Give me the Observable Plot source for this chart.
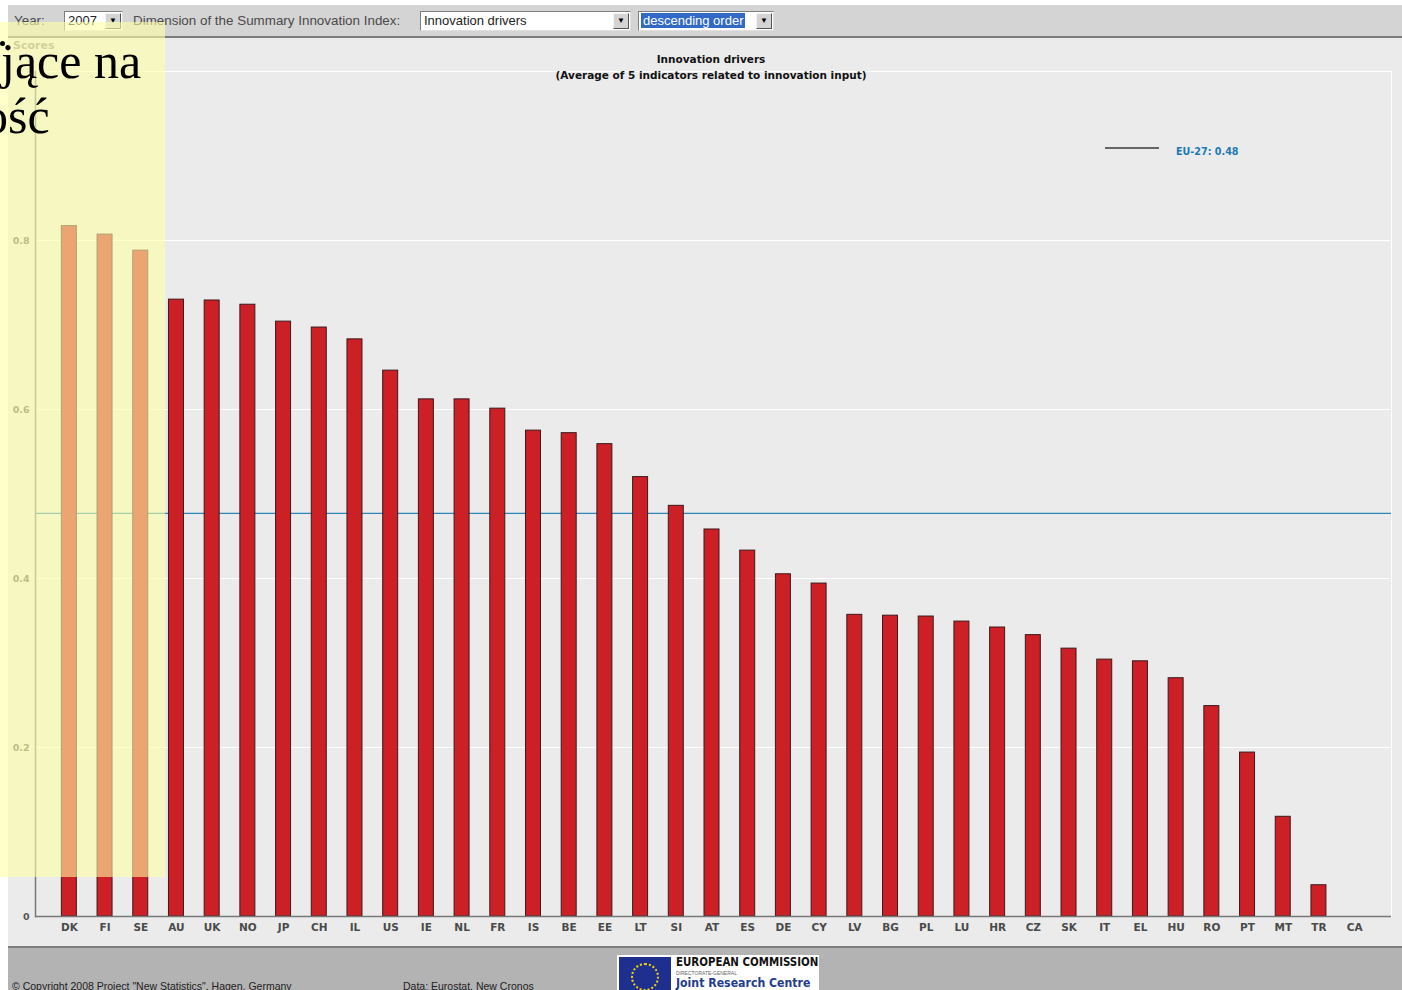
<!DOCTYPE html>
<html>
<head>
<meta charset="utf-8">
<script src="https://cdn.jsdelivr.net/npm/d3@7"></script>
<script src="https://cdn.jsdelivr.net/npm/@observablehq/plot@0.6"></script>
<style>
  html, body { margin: 0; padding: 0; background: #ffffff; }
  body { width: 1402px; height: 990px; position: relative; overflow: hidden; font-family: "Liberation Sans", Arial, sans-serif; }
  .abs { position: absolute; }
  #topbar { left: 8px; top: 5px; width: 1394px; height: 31px; background: #d4d4d4; border-bottom: 2px solid #7c7c7c; }
  .lbl { font-size: 13.4px; color: #4a4a4a; top: 13px; white-space: nowrap; }
  .sel { top: 11px; height: 18px; background: #fff; border: 1px solid #7f7f7f; border-right-color: #e0e0e0; border-bottom-color: #e0e0e0; font-size: 13px; color: #222; }
  .sel .txt { position: absolute; left: 3px; top: 1px; white-space: nowrap; }
  .sel .btn { position: absolute; right: 1px; top: 1px; width: 14px; height: 14px; background: #d4d4d4; border: 1px solid #f4f4f4; border-right-color: #555; border-bottom-color: #555; font-size: 8px; text-align: center; line-height: 14px; color: #000; }
  #chartbg { left: 8px; top: 38px; width: 1394px; height: 908px; background: #ebebeb; }
  #footer { left: 8px; top: 946px; width: 1394px; height: 44px; background: #b3b3b3; border-top: 2px solid #7c7c7c; }
  #plot { left: 0; top: 37px; }
  .title { width: 1402px; left: 10px; text-align: center; font-family: "DejaVu Sans", sans-serif; font-weight: bold; font-size: 10.5px; color: #111; }
  #overlay { left: 0; top: 22px; width: 165px; height: 855px; background: rgba(255,255,165,0.6); overflow: hidden; }
  .big { position: absolute; font-family: "Liberation Serif", "DejaVu Serif", serif; font-size: 50px; color: #000; white-space: nowrap; line-height: 1; }
  .cond { font-family: "DejaVu Sans Condensed", "Liberation Sans Narrow", "Liberation Sans", sans-serif; font-stretch: condensed; }
</style>
</head>
<body>
<script>
// ---- data ----
const codes = ["DK","FI","SE","AU","UK","NO","JP","CH","IL","US","IE","NL","FR","IS","BE","EE","LT","SI","AT","ES","DE","CY","LV","BG","PL","LU","HR","CZ","SK","IT","EL","HU","RO","PT","MT","TR","CA"];
const scores = [0.817,0.807,0.788,0.730,0.729,0.724,0.704,0.697,0.683,0.646,0.612,0.612,0.601,0.575,0.572,0.559,0.520,0.486,0.458,0.433,0.405,0.394,0.357,0.356,0.355,0.349,0.342,0.333,0.317,0.304,0.302,0.282,0.249,0.194,0.118,0.037,null];
const euValue = 0.477;
const yTicks = [0, 0.2, 0.4, 0.6, 0.8];
const gridValues = [0.2, 0.4, 0.6, 0.8, 1.0];
const titleText = "Innovation drivers";
const subtitleText = "(Average of 5 indicators related to innovation input)";
const legendText = "EU-27: 0.48";
</script>

<div id="topbar" class="abs"></div>
<div class="abs lbl" style="left:14px;">Year:</div>
<div class="abs sel" style="left:64px;width:57px;"><span class="txt">2007</span><span class="btn">&#9660;</span></div>
<div class="abs lbl" style="left:133px;">Dimension of the Summary Innovation Index:</div>
<div class="abs sel" style="left:420px;width:209px;"><span class="txt">Innovation drivers</span><span class="btn">&#9660;</span></div>
<div class="abs sel" style="left:638px;width:134px;"><span class="txt" style="background:#316ac5;color:#fff;padding:0 2px;left:2px;">descending order</span><span class="btn">&#9660;</span></div>

<div id="chartbg" class="abs"></div>
<div id="plot" class="abs"></div>

<div class="abs title" id="t1" style="top:53px;"></div>
<div class="abs title" id="t2" style="top:69px;"></div>

<div class="abs" style="left:1105px;top:147px;width:54px;height:0;border-top:2px solid #666;"></div>
<div class="abs" id="leg" style="left:1176px;top:146px;font-family:'DejaVu Sans',sans-serif;font-weight:bold;font-size:9.6px;color:#1a7ab5;"></div>

<div class="abs" style="left:13px;top:39px;font-family:'DejaVu Sans',sans-serif;font-weight:bold;font-size:11px;color:#8a8a8a;">Scores</div>

<div id="footer" class="abs"></div>
<div class="abs" style="left:12px;top:980px;font-size:10.5px;color:#222;white-space:nowrap;">&copy; Copyright 2008 Project "New Statistics", Hagen, Germany</div>
<div class="abs" style="left:403px;top:980px;font-size:10.5px;color:#222;white-space:nowrap;">Data: Eurostat, New Cronos</div>
<div class="abs" style="left:617px;top:955px;width:202px;height:40px;background:#fff;">
  <div class="abs" style="left:2px;top:2px;width:52px;height:38px;background:#1f2f8f;"></div>
  <div class="abs" style="left:14px;top:8px;width:24px;height:24px;border-radius:50%;border:2px dotted #f2d200;"></div>
  <div class="abs cond" style="left:59px;top:0px;font-weight:bold;font-size:11.4px;color:#111;white-space:nowrap;">EUROPEAN COMMISSION</div>
  <div class="abs" style="left:59px;top:15px;font-size:5px;color:#666;white-space:nowrap;">DIRECTORATE-GENERAL</div>
  <div class="abs cond" style="left:59px;top:21px;font-weight:bold;font-size:12.2px;color:#1f3c8f;white-space:nowrap;">Joint Research Centre</div>
</div>

<div id="overlay" class="abs">
  <div class="abs" style="left:0px;top:19px;width:5px;height:5px;border-radius:50%;background:#000;"></div>
  <div class="big" style="left:1px;top:14px;">jące na</div>
  <div class="big" style="left:-17px;top:69px;">ość</div>
</div>

<script>
document.getElementById("t1").textContent = titleText;
document.getElementById("t2").textContent = subtitleText;
document.getElementById("leg").textContent = legendText;

const data = codes.map((c, i) => ({code: c, value: scores[i]}));

const chart = Plot.plot({
  width: 1402,
  height: 909,
  marginTop: 34,
  marginBottom: 30,
  marginLeft: 35,
  marginRight: 11,
  style: {background: "transparent", fontFamily: "'DejaVu Sans', sans-serif", overflow: "visible"},
  x: {type: "band", domain: codes, insetLeft: 16, insetRight: 19, paddingInner: 0.58, paddingOuter: 0.29, round: false},
  y: {domain: [0, 1]},
  marks: [
    Plot.frame({stroke: "#ffffff", strokeWidth: 1}),
    Plot.ruleY(gridValues, {stroke: "#ffffff", strokeWidth: 1}),
    Plot.ruleY([euValue], {stroke: "#2a86b8", strokeWidth: 1.2}),
    Plot.barY(data.filter(d => d.value != null), {x: "code", y: "value", fill: "#cc1f26", stroke: "#3b1a1a", strokeWidth: 1}),
    Plot.ruleY([0], {stroke: "#777777", strokeWidth: 1.5}),
    Plot.frame({anchor: "left", stroke: "#777777", strokeWidth: 1.5}),
    Plot.axisY({ticks: yTicks, tickSize: 0, tickPadding: 6, tickFormat: d => d === 0 ? "0" : d.toFixed(1), label: null, fill: "#555555", fontWeight: "bold", fontSize: 9.5}),
    Plot.axisX({tickSize: 0, tickPadding: 7, label: null, fill: "#4a4a4a", fontWeight: "bold", fontSize: 10.5})
  ]
});
document.getElementById("plot").appendChild(chart);
</script>
</body>
</html>
